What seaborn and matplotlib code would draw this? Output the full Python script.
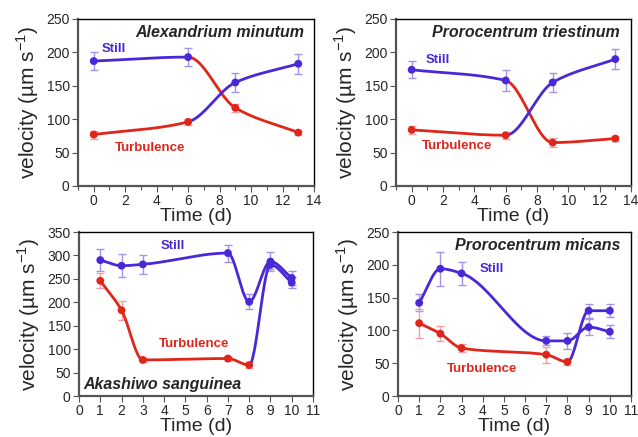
import numpy as np
import matplotlib
matplotlib.use("Agg")
import matplotlib.pyplot as plt
import seaborn as sns

# --- data -----------------------------------------------------------------
# top panels: sampled at day 0, 6, 9, 13; treatments swap after day 6
days_top = [0, 6, 9, 13]
am_still = [187, 193, 117, 80]
am_still_err = [13, 14, 6, 3]
am_turb = [77, 96, 155, 183]
am_turb_err = [6, 5, 14, 15]

pt_still = [174, 158, 65, 71]
pt_still_err = [13, 16, 7, 4]
pt_turb = [84, 76, 155, 190]
pt_turb_err = [6, 5, 14, 15]

# bottom panels: sampled at day 1, 2, 3, 7, 8, 9, 10; turbulence goes still after day 8
days_bot = [1, 2, 3, 7, 8, 9, 10]
as_still = [290, 278, 281, 305, 201, 287, 252]
as_still_err = [24, 25, 20, 18, 16, 20, 15]
as_turb = [246, 183, 77, 80, 66, 280, 242]
as_turb_err = [16, 20, 5, 6, 6, 8, 12]

pm_still = [142, 194, 187, 84, 84, 105, 98]
pm_still_err = [13, 26, 18, 7, 12, 12, 10]
pm_turb = [111, 95, 73, 63, 52, 130, 130]
pm_turb_err = [22, 11, 6, 12, 5, 11, 10]

BLUE = "#4a28d8"
RED = "#e0261b"
BLUE_ERR = "#a394ea"
RED_ERR = "#f2a0a0"


def pchip(x, y, xs):
    x = np.asarray(x, float)
    y = np.asarray(y, float)
    h = np.diff(x)
    d = np.diff(y) / h
    m = np.zeros_like(y)
    m[0], m[-1] = d[0], d[-1]
    for k in range(1, len(x) - 1):
        if d[k - 1] * d[k] > 0:
            w1 = 2 * h[k] + h[k - 1]
            w2 = h[k] + 2 * h[k - 1]
            m[k] = (w1 + w2) / (w1 / d[k - 1] + w2 / d[k])
    idx = np.clip(np.searchsorted(x, xs) - 1, 0, len(x) - 2)
    t = (xs - x[idx]) / h[idx]
    h00 = 2 * t**3 - 3 * t**2 + 1
    h10 = t**3 - 2 * t**2 + t
    h01 = -2 * t**3 + 3 * t**2
    h11 = t**3 - t**2
    return h00 * y[idx] + h10 * h[idx] * m[idx] + h01 * y[idx + 1] + h11 * h[idx] * m[idx + 1]


def draw_series(ax, days, vals, errs, switch, c_before, c_after, e_before, e_after):
    days = np.asarray(days, float)
    xs = np.linspace(days[0], days[-1], 400)
    ys = pchip(days, vals, xs)
    pre = xs <= switch
    post = xs >= switch
    ax.plot(xs[pre], ys[pre], color=c_before, lw=2, zorder=3)
    ax.plot(xs[post], ys[post], color=c_after, lw=2, zorder=3)
    for d, v, e in zip(days, vals, errs):
        ecol = e_before if d <= switch else e_after
        ax.errorbar(d, v, yerr=e, fmt="none", ecolor=ecol, elinewidth=1,
                    capsize=3, capthick=1, zorder=2)
    cols = [c_before if d <= switch else c_after for d in days]
    sns.scatterplot(x=days, y=vals, ax=ax, color=cols, s=32, edgecolor="none",
                    zorder=4, legend=False)


def style_axes(ax, xlim, xmajor, ylim, yticks, xminor=None):
    ax.set_xlim(*xlim)
    ax.set_ylim(*ylim)
    ax.set_xticks(xmajor)
    if xminor is not None:
        ax.set_xticks(xminor, minor=True)
    ax.set_yticks(yticks)
    ax.tick_params(axis="both", which="both", direction="out", length=4,
                   width=0.8, color="#555555", labelsize=10, pad=2)
    ax.tick_params(axis="x", which="minor", length=3)
    for side in ["left", "bottom"]:
        ax.spines[side].set_color("#555555")
        ax.spines[side].set_linewidth(1.6)
    for side in ["top", "right"]:
        ax.spines[side].set_color("black")
        ax.spines[side].set_linewidth(1.0)
    ax.set_xlabel("Time (d)", fontsize=14, labelpad=0)
    ax.set_ylabel("velocity (µm s$^{-1}$)", fontsize=15, labelpad=4)


sns.set_style("ticks")
plt.rcParams["font.family"] = ["Liberation Sans", "DejaVu Sans"]
plt.rcParams["mathtext.fontset"] = "custom"
plt.rcParams["mathtext.rm"] = "Liberation Sans"

W, H = 638, 437
fig = plt.figure(figsize=(W / 100, H / 100), dpi=100)


def add_ax(x0, y0, x1, y1):
    return fig.add_axes([x0 / W, 1 - y1 / H, (x1 - x0) / W, (y1 - y0) / H])


ax1 = add_ax(78, 19, 314, 186)
ax2 = add_ax(396, 19, 631, 186)
ax3 = add_ax(79, 232, 313, 396)
ax4 = add_ax(398, 232, 631, 396)

# top-left: Alexandrium minutum
draw_series(ax1, days_top, am_still, am_still_err, 6, BLUE, RED, BLUE_ERR, RED_ERR)
draw_series(ax1, days_top, am_turb, am_turb_err, 6, RED, BLUE, RED_ERR, BLUE_ERR)
style_axes(ax1, (-1, 14), range(0, 15, 2), (0, 250), range(0, 251, 50),
           xminor=range(-1, 15, 2))
ax1.text(1.3, 205, "Still", color=BLUE, fontsize=9.5, fontweight="bold", ha="center", va="center")
ax1.text(3.6, 57, "Turbulence", color=RED, fontsize=9.5, fontweight="bold", ha="center", va="center")
ax1.text(0.96, 0.92, "Alexandrium minutum", transform=ax1.transAxes, ha="right", va="center",
         fontsize=11.5, fontweight="bold", fontstyle="italic")

# top-right: Prorocentrum triestinum
draw_series(ax2, days_top, pt_still, pt_still_err, 6, BLUE, RED, BLUE_ERR, RED_ERR)
draw_series(ax2, days_top, pt_turb, pt_turb_err, 6, RED, BLUE, RED_ERR, BLUE_ERR)
style_axes(ax2, (-1, 14), range(0, 15, 2), (0, 250), range(0, 251, 50),
           xminor=range(-1, 15, 2))
ax2.text(1.7, 188, "Still", color=BLUE, fontsize=9.5, fontweight="bold", ha="center", va="center")
ax2.text(2.9, 60, "Turbulence", color=RED, fontsize=9.5, fontweight="bold", ha="center", va="center")
ax2.text(0.95, 0.92, "Prorocentrum triestinum", transform=ax2.transAxes, ha="right", va="center",
         fontsize=11.5, fontweight="bold", fontstyle="italic")

# bottom-left: Akashiwo sanguinea
draw_series(ax3, days_bot, as_still, as_still_err, 8, BLUE, BLUE, BLUE_ERR, BLUE_ERR)
draw_series(ax3, days_bot, as_turb, as_turb_err, 8, RED, BLUE, RED_ERR, BLUE_ERR)
style_axes(ax3, (0, 11), range(0, 12), (0, 350), range(0, 351, 50))
ax3.text(4.4, 321, "Still", color=BLUE, fontsize=9.5, fontweight="bold", ha="center", va="center")
ax3.text(5.4, 110, "Turbulence", color=RED, fontsize=9.5, fontweight="bold", ha="center", va="center")
ax3.text(0.02, 0.07, "Akashiwo sanguinea", transform=ax3.transAxes, ha="left", va="center",
         fontsize=11.5, fontweight="bold", fontstyle="italic")

# bottom-right: Prorocentrum micans
draw_series(ax4, days_bot, pm_still, pm_still_err, 8, BLUE, BLUE, BLUE_ERR, BLUE_ERR)
draw_series(ax4, days_bot, pm_turb, pm_turb_err, 8, RED, BLUE, RED_ERR, BLUE_ERR)
style_axes(ax4, (0, 11), range(0, 12), (0, 250), range(0, 251, 50))
ax4.text(4.45, 193, "Still", color=BLUE, fontsize=9.5, fontweight="bold", ha="center", va="center")
ax4.text(3.95, 41, "Turbulence", color=RED, fontsize=9.5, fontweight="bold", ha="center", va="center")
ax4.text(0.953, 0.92, "Prorocentrum micans", transform=ax4.transAxes, ha="right", va="center",
         fontsize=11.5, fontweight="bold", fontstyle="italic")

fig.savefig("out.png", dpi=100)
